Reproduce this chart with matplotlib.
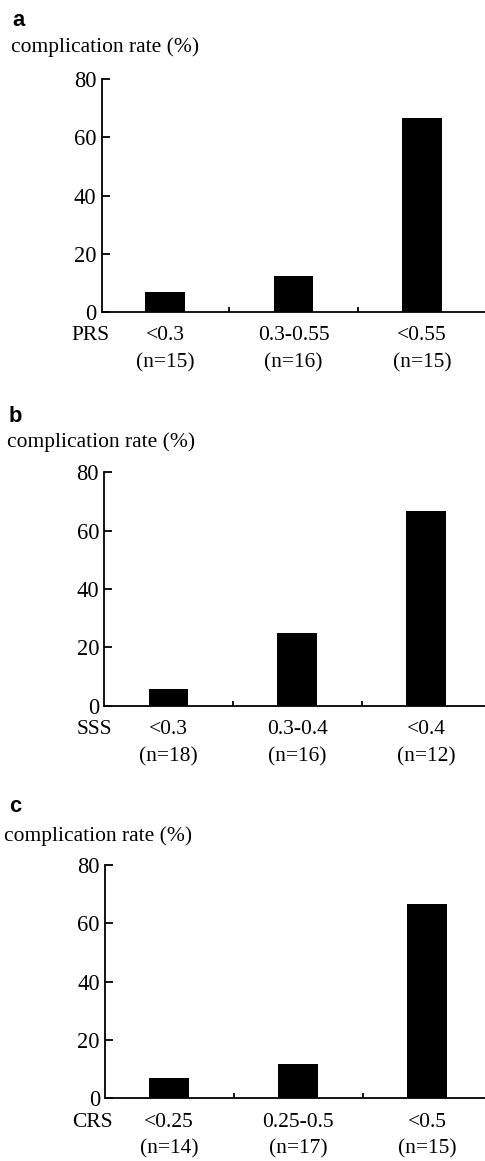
import matplotlib
matplotlib.use("Agg")
import matplotlib.pyplot as plt

# ---- data ----
panel_letters = ["a", "b", "c"]
score_names = ["PRS", "SSS", "CRS"]
categories_a = ["<0.3", "0.3-0.55", "<0.55"]
categories_b = ["<0.3", "0.3-0.4", "<0.4"]
categories_c = ["<0.25", "0.25-0.5", "<0.5"]
counts_a = ["(n=15)", "(n=16)", "(n=15)"]
counts_b = ["(n=18)", "(n=16)", "(n=12)"]
counts_c = ["(n=14)", "(n=17)", "(n=15)"]
rates_a = [6.7, 12.5, 66.7]
rates_b = [5.6, 25.0, 66.7]
rates_c = [7.1, 11.8, 66.7]
y_ticks = [0, 20, 40, 60, 80]
y_label = "complication rate (%)"

W, H = 485, 1161
DPI = 72
fig = plt.figure(figsize=(W / DPI, H / DPI), dpi=DPI)
fig.patch.set_facecolor("white")

serif = ["Liberation Serif", "DejaVu Serif"]
FS = 21.5
TFS = 22.5

# layout in pixels: (axis left x, y of 80, y of 0, xlim left, xlim right,
#  letter x, letter baseline y, ylabel x, ylabel baseline y)
layout = [
    (101.5, 79.0, 312.0, -0.493, 2.489, 12, 26.0, 11, 52.0),
    (104.0, 472.3, 705.7, -0.501, 2.458, 9, 421.7, 7, 447.0),
    (105.0, 865.0, 1098.3, -0.497, 2.448, 9, 811.7, 4, 840.7),
]

cats_all = [categories_a, categories_b, categories_c]
counts_all = [counts_a, counts_b, counts_c]
rates_all = [rates_a, rates_b, rates_c]

for i in range(3):
    xl, ytop, ybot, x0, x1, lx, ly, tx, ty = layout[i]
    ax = fig.add_axes([xl / W, 1 - ybot / H, 1 - xl / W, (ybot - ytop) / H])
    xs = list(range(len(cats_all[i])))
    ax.bar(xs, rates_all[i], width=0.31, color="black", edgecolor="black", linewidth=0)
    ax.set_xlim(x0, x1)
    ax.set_ylim(0, 80)
    ax.set_yticks(y_ticks)
    ax.set_yticklabels([str(v) for v in y_ticks], family=serif, fontsize=TFS)
    ax.tick_params(axis="y", direction="in", length=8, width=1.8, pad=5)
    ax.set_xticks(xs)
    ax.set_xticklabels([])
    ax.tick_params(axis="x", which="major", length=0)
    ax.set_xticks([0.5, 1.5], minor=True)
    ax.tick_params(axis="x", which="minor", direction="in", length=5, width=1.8)
    for s in ["top", "right"]:
        ax.spines[s].set_visible(False)
    for s in ["left", "bottom"]:
        ax.spines[s].set_linewidth(1.8)

    for x, c, n in zip(xs, cats_all[i], counts_all[i]):
        ax.annotate(c, xy=(x, 0), xycoords=("data", "axes fraction"),
                    xytext=(0, -24), textcoords="offset points",
                    ha="center", va="center", family=serif, fontsize=FS)
        ax.annotate(n, xy=(x, 0), xycoords=("data", "axes fraction"),
                    xytext=(0, -51), textcoords="offset points",
                    ha="center", va="center", family=serif, fontsize=FS)
    ax.annotate(score_names[i], xy=(0, 0), xycoords="axes fraction",
                xytext=(8, -24), textcoords="offset points",
                ha="right", va="center", family=serif, fontsize=FS)

    fig.text(lx / W, 1 - ly / H, panel_letters[i], ha="left", va="baseline",
             family=["Liberation Sans", "DejaVu Sans"], fontweight="bold", fontsize=22)
    fig.text(tx / W, 1 - ty / H, y_label, ha="left", va="baseline",
             family=serif, fontsize=FS)

fig.savefig("out.png", dpi=DPI, facecolor="white")
